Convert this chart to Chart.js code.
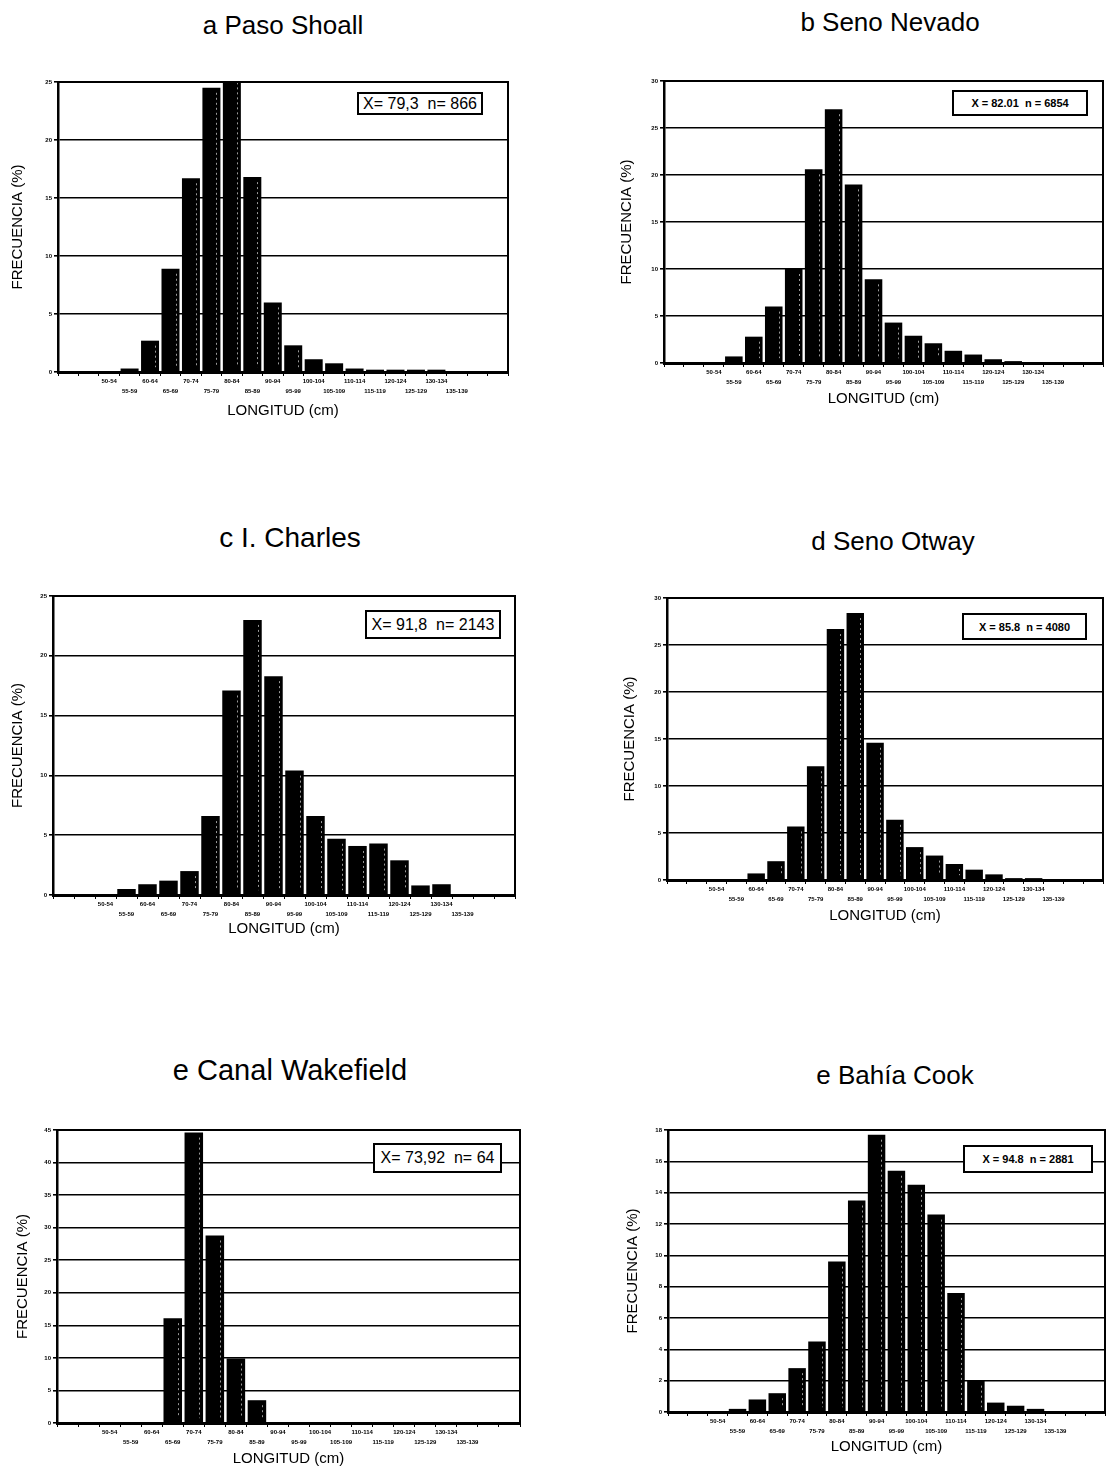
<!DOCTYPE html>
<html lang="es">
<head>
<meta charset="utf-8">
<title>Frecuencia de longitudes</title>
<script src="https://cdn.jsdelivr.net/npm/chart.js@4.4.1/dist/chart.umd.min.js"></script>
<style>
  html, body { margin:0; padding:0; background:#fff; }
  body { width:1108px; height:1477px; position:relative; overflow:hidden; font-family:"Liberation Sans", Arial, sans-serif; color:#000; }
  canvas { position:absolute; }
  .titulo { position:absolute; transform:translate(-50%,-50%); white-space:nowrap; font-size:26px; }
  .caja { position:absolute; box-sizing:border-box; border:2px solid #000; background:#fff; display:flex; align-items:center; justify-content:center; white-space:pre; }
  .caja.grande { font-size:16px; }
  .caja.chica { font-size:11px; font-weight:bold; }
</style>
</head>
<body>
<div id="lienzo"></div>
<script>
// clases de talla (cm)
const CATEGORIAS = ["40-44","45-49","50-54","55-59","60-64","65-69","70-74","75-79","80-84","85-89",
  "90-94","95-99","100-104","105-109","110-114","115-119","120-124","125-129","130-134","135-139",
  "140-144","145-149"];
// solo estas se rotulan en el eje
const ETIQUETAS_X = CATEGORIAS.slice(2, 20);

// frecuencia (%) por clase
const frecPasoShoall   = [0,0,0,0.3,2.7,8.9,16.7,24.5,25.4,16.8,6.0,2.3,1.1,0.75,0.3,0.2,0.2,0.2,0.2,0,0,0];
const frecSenoNevado   = [0,0,0.1,0.7,2.8,6.0,10.0,20.6,27.0,19.0,8.9,4.3,2.9,2.1,1.3,0.9,0.4,0.2,0.1,0,0,0];
const frecCharles      = [0,0,0,0.5,0.9,1.2,2.0,6.6,17.1,23.0,18.3,10.4,6.6,4.7,4.1,4.3,2.9,0.8,0.9,0,0,0];
const frecSenoOtway    = [0,0,0,0,0.7,2.0,5.7,12.1,26.7,28.4,14.6,6.4,3.5,2.6,1.7,1.1,0.6,0.2,0.2,0,0,0];
const frecWakefield    = [0,0,0,0,0,16.1,44.6,28.8,9.9,3.5,0,0,0,0,0,0,0,0,0,0,0,0];
const frecBahiaCook    = [0,0,0,0.2,0.8,1.2,2.8,4.5,9.6,13.5,17.7,15.4,14.5,12.6,7.6,2.0,0.6,0.4,0.2,0,0,0];

// marcas del eje Y
const ticksPasoShoall = [0,5,10,15,20,25];
const ticksSenoNevado = [0,5,10,15,20,25,30];
const ticksCharles    = [0,5,10,15,20,25];
const ticksSenoOtway  = [0,5,10,15,20,25,30];
const ticksWakefield  = [0,5,10,15,20,25,30,35,40,45];
const ticksBahiaCook  = [0,2,4,6,8,10,12,14,16,18];

const TITULOS = ["a Paso Shoall","b Seno Nevado","c I. Charles","d Seno Otway","e Canal Wakefield","e Bahía Cook"];
const NOTAS   = ["X= 79,3  n= 866","X = 82.01  n = 6854","X= 91,8  n= 2143","X = 85.8  n = 4080","X= 73,92  n= 64","X = 94.8  n = 2881"];

// posiciones en la página
const PANELES = [
  { datos: frecPasoShoall, ticks: ticksPasoShoall, titulo: [283, 25, 26],
    lienzo: [0, 68, 540, 352],   ejeY: 58, ejeX: 48, der: 32, yTit: 9,
    nota: [357, 92, 126, 23, "grande"] },
  { datos: frecSenoNevado, ticks: ticksSenoNevado, titulo: [890, 22, 26],
    lienzo: [600, 67, 508, 341], ejeY: 64, ejeX: 45, der: 5, yTit: 18,
    nota: [952, 90, 136, 26, "chica"] },
  { datos: frecCharles, ticks: ticksCharles, titulo: [290, 538, 28],
    lienzo: [0, 582, 540, 356],  ejeY: 53, ejeX: 43, der: 25, yTit: 9,
    nota: [365, 610, 136, 29, "grande"] },
  { datos: frecSenoOtway, ticks: ticksSenoOtway, titulo: [893, 541, 26],
    lienzo: [600, 584, 508, 341], ejeY: 67, ejeX: 45, der: 5, yTit: 21,
    nota: [962, 613, 125, 27, "chica"] },
  { datos: frecWakefield, ticks: ticksWakefield, titulo: [290, 1070, 29],
    lienzo: [0, 1116, 540, 352], ejeY: 57, ejeX: 45, der: 20, yTit: 14,
    nota: [373, 1143, 129, 30, "grande"] },
  { datos: frecBahiaCook, ticks: ticksBahiaCook, titulo: [895, 1075, 26],
    lienzo: [600, 1116, 508, 340], ejeY: 68, ejeX: 44, der: 3, yTit: 24,
    nota: [963, 1145, 130, 28, "chica"] }
];

const FUENTE = '"Liberation Sans", Arial, sans-serif';

const marco = {
  id: "marco",
  afterDraw(chart) {
    const { ctx, chartArea: a } = chart;
    ctx.save();
    ctx.strokeStyle = "#000";
    ctx.lineWidth = 2;
    ctx.beginPath();
    ctx.moveTo(a.left, a.top);
    ctx.lineTo(a.right, a.top);
    ctx.lineTo(a.right, a.bottom);
    ctx.stroke();
    ctx.restore();
  }
};

// raya clara del volumen de cada barra
const brillo = {
  id: "brillo",
  afterDatasetsDraw(chart) {
    const ctx = chart.ctx;
    ctx.save();
    ctx.strokeStyle = "rgba(255,255,255,0.6)";
    ctx.lineWidth = 1;
    ctx.setLineDash([2, 3]);
    chart.getDatasetMeta(0).data.forEach(b => {
      if (b.base - b.y < 14) return;
      const x = Math.round(b.x + b.width * 0.28) + 0.5;
      ctx.beginPath();
      ctx.moveTo(x, b.y + 5);
      ctx.lineTo(x, b.base - 4);
      ctx.stroke();
    });
    ctx.restore();
  }
};

const raiz = document.getElementById("lienzo");

PANELES.forEach((p, i) => {
  const t = document.createElement("div");
  t.className = "titulo";
  t.textContent = TITULOS[i];
  t.style.left = p.titulo[0] + "px";
  t.style.top = p.titulo[1] + "px";
  t.style.fontSize = p.titulo[2] + "px";
  document.body.appendChild(t);

  const [cx, cy, cw, ch] = p.lienzo;
  const cv = document.createElement("canvas");
  cv.width = cw; cv.height = ch;
  cv.style.left = cx + "px"; cv.style.top = cy + "px";
  cv.style.width = cw + "px"; cv.style.height = ch + "px";
  raiz.appendChild(cv);

  const paso = p.ticks[1] - p.ticks[0];
  new Chart(cv, {
    type: "bar",
    data: {
      labels: CATEGORIAS,
      datasets: [{
        data: p.datos,
        backgroundColor: "#000",
        borderWidth: 0,
        barPercentage: 0.88,
        categoryPercentage: 1
      }]
    },
    options: {
      responsive: false,
      animation: false,
      layout: { padding: { left: 0, top: 14, right: p.der, bottom: 0 } },
      plugins: { legend: { display: false }, tooltip: { enabled: false } },
      scales: {
        x: {
          grid: { offset: true, drawOnChartArea: false, drawTicks: true, tickLength: 4, color: "#000", lineWidth: 1 },
          border: { display: true, color: "#000", width: 3 },
          ticks: {
            autoSkip: false, maxRotation: 0, minRotation: 0, padding: 1, color: "#000",
            font: { family: FUENTE, size: 6, weight: "bold", lineHeight: 1.6 },
            callback: (v, idx) => {
              const lab = CATEGORIAS[idx];
              if (!ETIQUETAS_X.includes(lab)) return ["", ""];
              return idx % 2 === 0 ? [lab, ""] : ["", lab];
            }
          },
          title: { display: true, text: "LONGITUD (cm)", color: "#000", padding: { top: 0, bottom: 0 },
                   font: { family: FUENTE, size: 15, lineHeight: 1.2 } },
          afterFit: s => { s.height = p.ejeX; }
        },
        y: {
          min: p.ticks[0],
          max: p.ticks[p.ticks.length - 1],
          grid: { color: "#000", lineWidth: 1.6, drawTicks: true, tickLength: 4 },
          border: { display: true, color: "#000", width: 2.5 },
          ticks: {
            stepSize: paso, padding: 2, color: "#000",
            font: { family: FUENTE, size: 6, weight: "bold" },
            callback: v => (p.ticks.includes(v) ? v : "")
          },
          title: { display: true, text: "FRECUENCIA (%)", color: "#000", padding: { top: p.yTit, bottom: 0 },
                   font: { family: FUENTE, size: 15, lineHeight: 1.2 } },
          afterFit: s => { s.width = p.ejeY; }
        }
      }
    },
    plugins: [brillo, marco]
  });

  const [nx, ny, nw, nh, tam] = p.nota;
  const caja = document.createElement("div");
  caja.className = "caja " + tam;
  caja.textContent = NOTAS[i];
  caja.style.left = nx + "px"; caja.style.top = ny + "px";
  caja.style.width = nw + "px"; caja.style.height = nh + "px";
  document.body.appendChild(caja);
});
</script>
</body>
</html>
